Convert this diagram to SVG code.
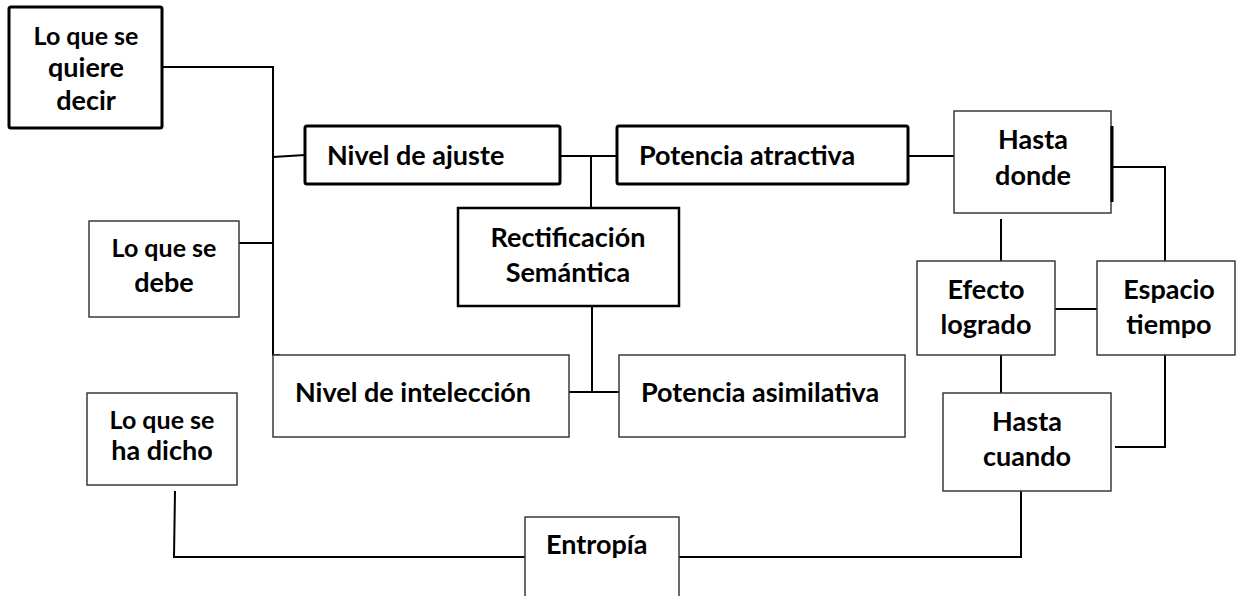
<svg xmlns="http://www.w3.org/2000/svg" width="1240" height="596" viewBox="0 0 1240 596">
<style>
.thin{fill:#fff;stroke:#3a3a3a;stroke-width:1.5}
.thick{fill:#fff;stroke:#000;stroke-width:3}
.mid{fill:#fff;stroke:#000;stroke-width:2.5}
text{font-family:Lato,"Open Sans","Liberation Sans",sans-serif;font-weight:bold;font-size:27px;fill:#000}
.c{text-anchor:middle}
.s{font-size:25px}
#connectors path{fill:none;stroke:#000;stroke-width:2}
</style>
<rect width="1240" height="596" fill="#fff"/>
<g id="connectors">
<path d="M162,67 H273 V355 H280"/>
<path d="M273,157 L305,155"/>
<path d="M239,243 H273"/>
<path d="M560,156 H617"/>
<path d="M591,156 V208"/>
<path d="M908,156 H955"/>
<path d="M1113,167 H1165 V261"/>
<path d="M1001,219 V261"/>
<path d="M1055,309 H1097"/>
<path d="M1001,355 V393"/>
<path d="M1165,355 V447 H1115"/>
<path d="M592,306 V392"/>
<path d="M563,392 H619"/>
<path d="M175,491 L174,557 H525"/>
<path d="M679,557 H1021 V491"/>
</g>
<g id="n-quiere">
<rect class="thick" x="9" y="7" width="153" height="121" rx="2"/>
<text class="c s" x="86" y="45">Lo que se</text>
<text class="c" x="86" y="77">quiere</text>
<text class="c" x="86" y="110">decir</text>
</g>
<g id="n-debe">
<rect class="thin" x="89" y="221" width="150" height="96"/>
<text class="c s" x="164" y="257">Lo que se</text>
<text class="c" x="164" y="292">debe</text>
</g>
<g id="n-dicho">
<rect class="thin" x="87" y="393" width="150" height="92"/>
<text class="c s" x="162" y="429">Lo que se</text>
<text class="c" x="162" y="460">ha dicho</text>
</g>
<g id="n-ajuste">
<rect class="thick" x="305" y="126" width="255" height="58" rx="2"/>
<text x="327" y="165">Nivel de ajuste</text>
</g>
<g id="n-atractiva">
<rect class="thick" x="617" y="126" width="291" height="58" rx="2"/>
<text x="639" y="165">Potencia atractiva</text>
</g>
<g id="n-rectificacion">
<rect class="mid" x="458" y="208" width="221" height="98"/>
<text class="c" x="568" y="247">Rectificación</text>
<text class="c" x="568" y="282">Semántica</text>
</g>
<g id="n-inteleccion">
<rect class="thin" x="273" y="355" width="296" height="82"/>
<text x="295" y="402">Nivel de intelección</text>
</g>
<g id="n-asimilativa">
<rect class="thin" x="619" y="355" width="286" height="82"/>
<text x="641" y="402">Potencia asimilativa</text>
</g>
<g id="n-hasta-donde">
<rect class="thin" x="954" y="111" width="157" height="102"/>
<line x1="1112" y1="126" x2="1112" y2="202" stroke="#000" stroke-width="3"/>
<text class="c" x="1033" y="149">Hasta</text>
<text class="c" x="1033" y="185">donde</text>
</g>
<g id="n-efecto">
<rect class="thin" x="917" y="261" width="138" height="94"/>
<text class="c" x="986" y="299">Efecto</text>
<text class="c" x="986" y="334">logrado</text>
</g>
<g id="n-espacio">
<rect class="thin" x="1097" y="261" width="138" height="94"/>
<text class="c" x="1169" y="299">Espacio</text>
<text class="c" x="1169" y="334">tiempo</text>
</g>
<g id="n-hasta-cuando">
<rect class="thin" x="943" y="393" width="168" height="98"/>
<text class="c" x="1027" y="431">Hasta</text>
<text class="c" x="1027" y="466">cuando</text>
</g>
<g id="n-entropia">
<rect class="thin" x="525" y="517" width="154" height="90"/>
<text x="546" y="554">Entropía</text>
</g>
</svg>
